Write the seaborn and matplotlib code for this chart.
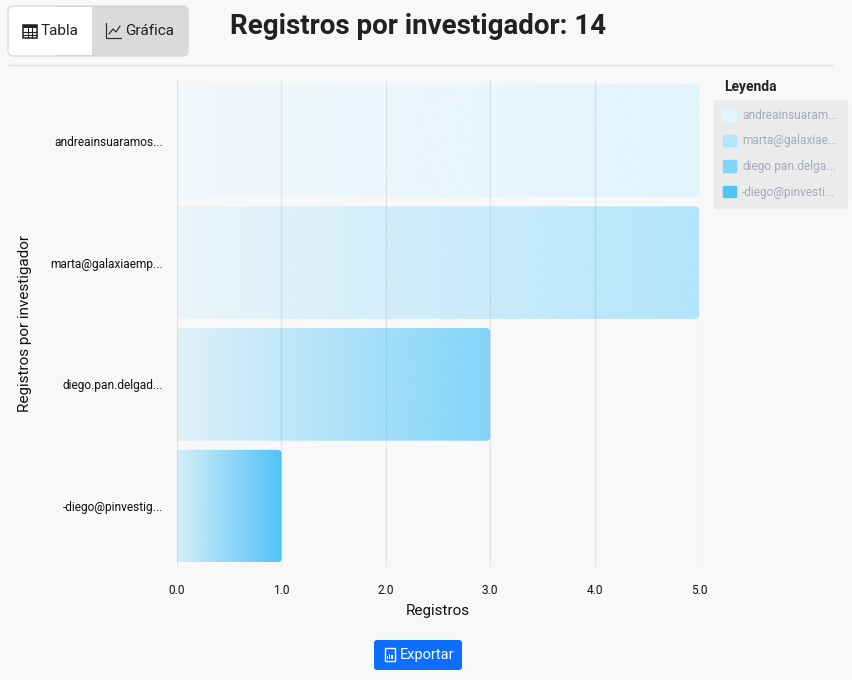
import numpy as np
import pandas as pd
import matplotlib
matplotlib.use("Agg")
import matplotlib.pyplot as plt
import seaborn as sns
from matplotlib.patches import FancyBboxPatch, Patch, Rectangle
from matplotlib.lines import Line2D
from matplotlib.colors import to_rgb

investigadores = ["andreainsuaramos...", "marta@galaxiaemp...", "diego.pan.delgad...", "-diego@pinvestig..."]
leyenda_labels = ["andreainsuaram...", "marta@galaxiae...", "diego.pan.delga...", "-diego@pinvesti..."]
registros = [5, 5, 3, 1]
colores = ["#E1F5FE", "#B3E5FC", "#81D4FA", "#4FC3F7"]
x_ticks = [0, 1, 2, 3, 4, 5]

BG = "#f8f8f8"
W, H = 852, 680

sns.set_theme(style="white")
plt.rcParams["font.family"] = ["Roboto", "DejaVu Sans"]

df = pd.DataFrame({"investigador": investigadores, "registros": registros})

fig = plt.figure(figsize=(W / 100, H / 100), dpi=100, facecolor=BG)
ax = fig.add_axes([177 / W, 1 - 567 / H, 522 / W, 487 / H])
ax.set_facecolor(BG)

sns.barplot(data=df, x="registros", y="investigador", hue="investigador",
            palette=colores, width=0.925, saturation=1, legend=False, ax=ax)

ax.set_xlim(0, 5)
ax.set_ylim(3.5, -0.5)

# swap the flat bars for left->right gradients with a rounded right end
px_x = 5 / 522
px_y = 4 / 487
for patch in list(ax.patches):
    x0, y0 = patch.get_x(), patch.get_y()
    w, h = patch.get_width(), patch.get_height()
    rgb = to_rgb(patch.get_facecolor())
    grad = np.zeros((1, 256, 4))
    grad[..., :3] = rgb
    grad[..., 3] = np.linspace(0.2, 1.0, 256)
    im = ax.imshow(grad, extent=[x0, x0 + w, y0 + h, y0], aspect="auto", zorder=2,
                   interpolation="bilinear")
    clip = FancyBboxPatch((x0 - 6 * px_x, y0), w + 6 * px_x, h,
                          boxstyle=f"round,pad=0,rounding_size={4 * px_x}",
                          mutation_aspect=px_y / px_x, transform=ax.transData)
    im.set_clip_path(clip)
    patch.set_visible(False)

ax.set_xlim(0, 5)
ax.set_ylim(3.5, -0.5)

for s in ax.spines.values():
    s.set_visible(False)
ax.set_axisbelow(False)
ax.xaxis.grid(True, color="black", alpha=0.07, lw=1)
ax.set_xticks(x_ticks)
ax.set_xticklabels([f"{t:.1f}" for t in x_ticks])
ax.tick_params(axis="x", length=0, labelsize=8.6, pad=12, colors="#111111")
ax.tick_params(axis="y", length=0, labelsize=8.6, pad=10, colors="#111111")
ax.set_xlabel("Registros", fontsize=11, labelpad=5, color="#111111")
ax.set_ylabel("Registros por investigador", fontsize=11, labelpad=13, color="#111111")

# header
fig.text(418 / W, 1 - 26 / H, f"Registros por investigador: {sum(registros)}",
         fontsize=20, fontweight="bold", ha="center", va="center", color="#212121")
fig.add_artist(Line2D([8 / W, 832 / W], [1 - 65 / H] * 2, color="#dcdcdc", lw=1))


def px(x, y):
    return x / 100, (H - y) / 100


tr = fig.dpi_scale_trans
# toggle buttons
fig.add_artist(FancyBboxPatch(px(8, 56), 1.80, 0.50, boxstyle="round,pad=0,rounding_size=0.05",
                              fc="#dadada", ec="#d4d4d4", lw=0.8, transform=tr))
fig.add_artist(FancyBboxPatch(px(8.6, 55.4), 0.50, 0.488, boxstyle="round,pad=0,rounding_size=0.045",
                              fc="white", ec="none", transform=tr))
fig.add_artist(Rectangle(px(40, 55.4), 0.52, 0.488, fc="white", ec="none", transform=tr))
fig.text(*px(41, 31), "Tabla", fontsize=11, va="center", ha="left", color="#212121", transform=tr)
fig.text(*px(125, 31), "Gráfica", fontsize=11, va="center", ha="left", color="#212121", transform=tr)

# table icon
fig.add_artist(Rectangle(px(23, 38), 0.14, 0.13, fc="none", ec="#222222", lw=1.1, transform=tr))
fig.add_artist(Rectangle(px(23, 28), 0.14, 0.03, fc="#222222", ec="none", transform=tr))
for xx in (27.7, 32.3):
    fig.add_artist(Line2D([xx / 100] * 2, [(H - 38) / 100, (H - 25) / 100], color="#222222", lw=0.8, transform=tr))
for yy in (31.5, 34.8):
    fig.add_artist(Line2D([0.23, 0.37], [(H - yy) / 100] * 2, color="#222222", lw=0.8, transform=tr))

# chart icon
fig.add_artist(Line2D([1.06, 1.06, 1.21], [(H - 23) / 100, (H - 38) / 100, (H - 38) / 100],
                      color="#333333", lw=0.9, transform=tr))
fig.add_artist(Line2D([1.09, 1.13, 1.16, 1.20], [(H - 34) / 100, (H - 29) / 100, (H - 32) / 100, (H - 26) / 100],
                      color="#333333", lw=0.9, transform=tr))

# legend
fig.text(724 / W, 1 - 87 / H, "Leyenda", fontsize=10, fontweight="bold", va="center", ha="left", color="#222222")
handles = [Patch(facecolor=c, edgecolor=c) for c in colores]
leg = fig.legend(handles, leyenda_labels, loc="upper left", bbox_to_anchor=(714 / W, 1 - 100 / H),
                 borderaxespad=0, frameon=True, fancybox=True, facecolor="#ebebeb", edgecolor="#ebebeb",
                 fontsize=8.6, labelcolor="#a4abbd", handlelength=1.1, handleheight=1.1,
                 handletextpad=0.5, labelspacing=1.05, borderpad=0.75, framealpha=1)

# export button
fig.add_artist(FancyBboxPatch(px(374, 670), 0.88, 0.30, boxstyle="round,pad=0,rounding_size=0.03",
                              fc="#0d6efd", ec="none", transform=tr))
fig.text(*px(400, 655.5), "Exportar", fontsize=10.5, va="center", ha="left", color="white", transform=tr)
fig.add_artist(Rectangle(px(385, 661), 0.10, 0.13, fc="none", ec="white", lw=1.0, transform=tr))
for i, hh in enumerate((0.03, 0.05, 0.04)):
    fig.add_artist(Rectangle(((387 + 2.2 * i) / 100, (H - 659) / 100), 0.012, hh, fc="white", ec="none", transform=tr))

fig.savefig("out.png", dpi=100, facecolor=BG)
